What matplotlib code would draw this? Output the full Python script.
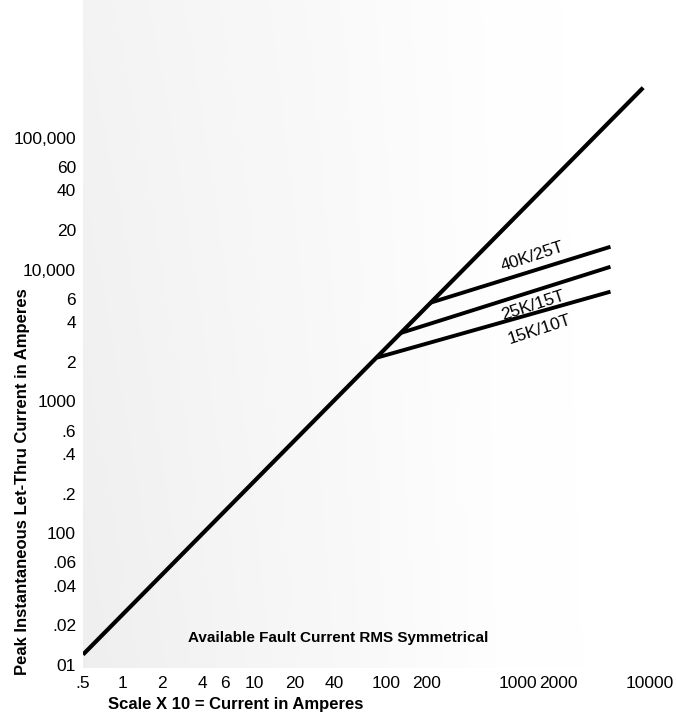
import numpy as np
import matplotlib
matplotlib.use("Agg")
import matplotlib.pyplot as plt

plt.rcParams['font.family'] = ['Liberation Sans', 'DejaVu Sans']

# Data
main_x = [0.5, 8850]
main_y = [12, 240000]

branch_names = ["15K/10T", "25K/15T", "40K/25T"]
branch_x = [[85, 5000], [128, 5000], [215, 5000]]
branch_y = [[2150, 6800], [3300, 10500], [5600, 14900]]
label_x = [1458, 1291, 1291]
label_y = [3500, 5350, 12450]

xtick_vals = [0.5, 1, 2, 4, 6, 10, 20, 40, 100, 200, 1000, 2000, 10000]
xtick_labels = [".5", "1", "2", "4", "6", "10", "20", "40", "100", "200", "1000", "2000", "10000"]
ytick_vals = [10, 20, 40, 60, 100, 200, 400, 600, 1000, 2000, 4000, 6000,
              10000, 20000, 40000, 60000, 100000]
ytick_labels = ["01", ".02", ".04", ".06", "100", ".2", ".4", ".6", "1000", "2", "4", "6",
                "10,000", "20", "40", "60", "100,000"]

W, H = 676, 712
fig = plt.figure(figsize=(W / 100, H / 100), dpi=100)
left, right, top, bottom = 83, 676, 0, 668
ax = fig.add_axes([left / W, (H - bottom) / H, (right - left) / W, (bottom - top) / H])
ax.set_xscale('log')
ax.set_yscale('log')
ax.set_xlim(0.5, 15700)
ax.set_ylim(9.49, 1.11e6)

# stippled background approximated with a soft gray gradient
gx = np.linspace(0, 1, 200)
gy = np.linspace(0, 1, 200)
GX, GY = np.meshgrid(gx, gy)
shade = np.clip(1.0 - 1.4 * GX, 0, 1) * 0.75 + 0.25 * np.clip(1 - 1.05 * GX, 0, 1)
shade = shade * (0.75 + 0.25 * np.clip(1 - GY, 0, 1))
ax.imshow(shade, extent=[0, 1, 0, 1], transform=ax.transAxes, origin='lower',
          cmap='Greys', vmin=0, vmax=7.5, aspect='auto', zorder=0, interpolation='bilinear')

ax.plot(main_x, main_y, color='black', lw=3.0, solid_capstyle='butt', zorder=3)
for bx, by in zip(branch_x, branch_y):
    ax.plot(bx, by, color='black', lw=2.8, solid_capstyle='butt', zorder=3)

for name, lx, ly in zip(branch_names, label_x, label_y):
    ax.text(lx, ly, name, rotation=18, ha='center', va='center', fontsize=12.5, zorder=4)

ax.text(0.43, 0.045, "Available Fault Current RMS Symmetrical", transform=ax.transAxes,
        ha='center', va='center', fontsize=11, fontweight='bold', zorder=4)

for s in ax.spines.values():
    s.set_visible(False)
ax.set_xticks(xtick_vals)
ax.set_xticklabels(xtick_labels)
ax.set_yticks(ytick_vals)
ax.set_yticklabels(ytick_labels)
ax.minorticks_off()
ax.tick_params(axis='both', length=0, labelsize=12.5)
ax.tick_params(axis='x', pad=6)
ax.tick_params(axis='y', pad=5)

fig.text(108 / W, 1 - 705 / H, "Scale X 10 = Current in Amperes", ha='left', va='center',
         fontsize=12, fontweight='bold')
fig.text(23 / W, 1 - 482 / H, "Peak Instantaneous Let-Thru Current in Amperes", rotation=90,
         ha='center', va='center', fontsize=12, fontweight='bold')

fig.savefig("out.png", dpi=100)
